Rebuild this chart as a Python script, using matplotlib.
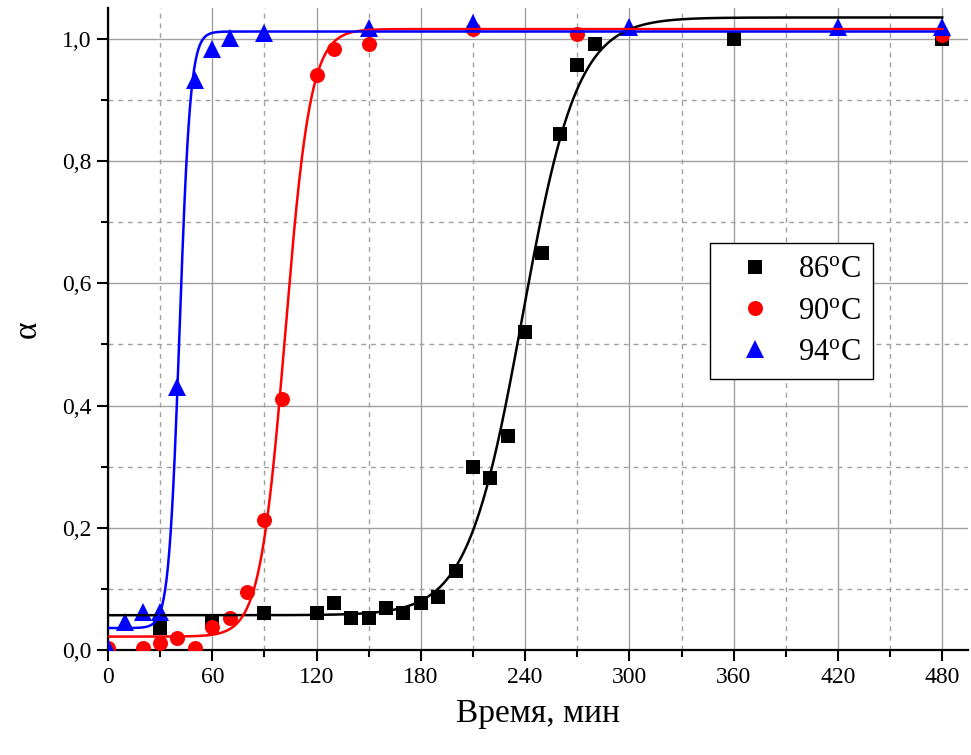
import numpy as np
import matplotlib
matplotlib.use("Agg")
import matplotlib.pyplot as plt
from matplotlib.ticker import MultipleLocator, FuncFormatter

plt.rcParams['font.family'] = ['Liberation Serif', 'DejaVu Serif']
plt.rcParams['mathtext.fontset'] = 'custom'
plt.rcParams['mathtext.rm'] = 'Liberation Serif'
plt.rcParams['mathtext.it'] = 'Liberation Serif:italic'

# Measured degree of conversion vs. time
t86 = [30, 60, 90, 120, 130, 140, 150, 160, 170, 180, 190, 200, 210, 220, 230,
       240, 250, 260, 270, 280, 360, 480]
a86 = [0.036, 0.046, 0.060, 0.060, 0.077, 0.052, 0.052, 0.069, 0.060, 0.077, 0.086,
       0.130, 0.300, 0.282, 0.351, 0.521, 0.650, 0.845, 0.957, 0.991, 1.000, 1.000]

t90 = [0, 20, 30, 40, 50, 60, 70, 80, 90, 100, 120, 130, 150, 210, 270, 480]
a90 = [0.003, 0.004, 0.011, 0.019, 0.004, 0.037, 0.052, 0.095, 0.213, 0.411,
       0.941, 0.983, 0.991, 1.016, 1.008, 1.007]

t94 = [0, 10, 20, 30, 40, 50, 60, 70, 90, 150, 210, 300, 420, 480]
a94 = [0.003, 0.046, 0.063, 0.063, 0.430, 0.933, 0.984, 1.002, 1.010, 1.017,
       1.026, 1.020, 1.019, 1.019]

# Boltzmann sigmoid fit parameters: (A1, A2, x0, dx)
fit86 = (0.057, 1.035, 238.5, 15.8)
fit90 = (0.022, 1.016, 102.0, 7.3)
fit94 = (0.036, 1.012, 41.2, 3.1)

labels = ['86$^{\\mathrm{o}}$C', '90$^{\\mathrm{o}}$C', '94$^{\\mathrm{o}}$C']
colors = ['black', 'red', 'blue']
markers = ['s', 'o', '^']
msizes = [9.6, 10.8, 12.5]


def boltzmann(x, a1, a2, x0, dx):
    return a2 + (a1 - a2) / (1.0 + np.exp((x - x0) / dx))


fig = plt.figure(figsize=(9.71, 7.55), dpi=100)
ax = fig.add_axes([0.1112, 0.139, 0.886, 0.850])

for t, a, c, m, ms, lab in zip([t86, t90, t94], [a86, a90, a94], colors,
                               markers, msizes, labels):
    ax.plot(t, a, linestyle='none', marker=m, markersize=ms, color=c,
            markeredgewidth=0, label=lab, zorder=3)

tt = np.linspace(0, 480, 1200)
for p, c in zip([fit86, fit90, fit94], colors):
    ax.plot(tt, boltzmann(tt, *p), color=c, lw=1.8, zorder=4)

ax.set_xlim(0, 495)
ax.set_ylim(0, 1.05)
ax.xaxis.set_major_locator(MultipleLocator(60))
ax.xaxis.set_minor_locator(MultipleLocator(30))
ax.yaxis.set_major_locator(MultipleLocator(0.2))
ax.yaxis.set_minor_locator(MultipleLocator(0.1))
ax.yaxis.set_major_formatter(FuncFormatter(lambda v, p: f"{v:.1f}".replace('.', ',')))

ax.grid(True, which='major', color='#a0a0a0', lw=1.0, ls='-', zorder=0)
ax.grid(True, which='minor', color='#a0a0a0', lw=1.0, ls=(0, (3.5, 3.5)), zorder=0)
ax.set_axisbelow(True)

for s in ['top', 'right']:
    ax.spines[s].set_visible(False)
for s in ['left', 'bottom']:
    ax.spines[s].set_linewidth(1.6)

ax.tick_params(which='major', direction='out', length=8, width=1.5,
               labelsize=17, pad=4)
ax.tick_params(which='minor', direction='out', length=5, width=1.5)

ax.set_xlabel('Время, мин', fontsize=24, labelpad=8)
ax.set_ylabel('α', fontsize=24, labelpad=14)

leg = ax.legend(loc='upper left', bbox_to_anchor=(0.700, 0.634), fontsize=22,
                frameon=True, fancybox=False, edgecolor='black',
                framealpha=1.0, borderpad=0.4, handletextpad=0.3,
                labelspacing=0.4, handlelength=2.16, borderaxespad=0)
leg.get_frame().set_linewidth(1.0)

fig.savefig('out.png', dpi=100)
